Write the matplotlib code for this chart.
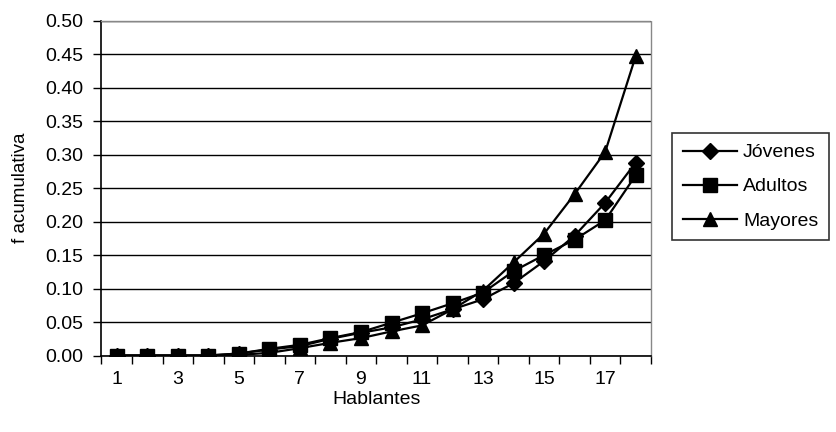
"""Cumulative frequency of speakers by age group."""

import numpy as np
import matplotlib
matplotlib.use('Agg')
import matplotlib.pyplot as plt

hablantes = list(range(1, 19))
jovenes = [0.0, 0.0, 0.0, 0.0, 0.003, 0.009, 0.014, 0.025, 0.034, 0.042,
           0.054, 0.069, 0.084, 0.108, 0.141, 0.179, 0.228, 0.288]
adultos = [0.0, 0.0, 0.0, 0.0, 0.003, 0.010, 0.016, 0.026, 0.035, 0.049,
           0.063, 0.078, 0.094, 0.126, 0.150, 0.173, 0.202, 0.269]
mayores = [0.0, 0.0, 0.0, 0.0, 0.001, 0.004, 0.011, 0.019, 0.026, 0.036,
           0.045, 0.069, 0.097, 0.139, 0.182, 0.241, 0.304, 0.447]
xtick_labels = ['1', '3', '5', '7', '9', '11', '13', '15', '17']

plt.rcParams['font.family'] = ['Liberation Sans', 'DejaVu Sans']
FS = 14

fig = plt.figure(figsize=(8.36, 4.32), dpi=100)
ax = fig.add_axes([0.1214, 0.177, 0.6573, 0.7755])

x = np.arange(len(hablantes))
series = [(jovenes, 'D', 8.5, 'Jóvenes'),
          (adultos, 's', 9.5, 'Adultos'),
          (mayores, '^', 10.5, 'Mayores')]
for values, marker, ms, label in series:
    ax.plot(x, values, color='black', lw=1.6, marker=marker, ms=ms,
            markerfacecolor='black', markeredgecolor='black', label=label)

ax.set_xlim(-0.5, len(hablantes) - 0.5)
ax.set_ylim(0, 0.5)
yticks = np.arange(0, 0.501, 0.05)
ax.set_yticks(yticks)
ax.set_yticklabels([f'{v:.2f}' for v in yticks])
ax.yaxis.grid(True, color='black', lw=1)
ax.set_axisbelow(True)

# category axis: labels on every other point, ticks on the boundaries
ax.set_xticks(x[::2])
ax.set_xticklabels(xtick_labels)
ax.set_xticks(np.arange(-0.5, len(hablantes), 1), minor=True)
ax.tick_params(axis='x', which='major', length=0, pad=11, labelsize=FS)
ax.tick_params(axis='x', which='minor', length=6, width=1, color='black')
ax.tick_params(axis='y', length=6, width=1, labelsize=FS, pad=7)

for side in ('top', 'right'):
    ax.spines[side].set_color('#888888')
    ax.spines[side].set_linestyle((0, (1, 1)))
    ax.spines[side].set_linewidth(1)
for side in ('left', 'bottom'):
    ax.spines[side].set_color('black')
    ax.spines[side].set_linewidth(1.2)

ax.set_xlabel('Hablantes', fontsize=FS, labelpad=2)
ax.set_ylabel('f acumulativa', fontsize=FS - 0.5, labelpad=12)

leg = fig.legend(loc='upper left', bbox_to_anchor=(0.8038, 0.6921),
                 fontsize=FS, frameon=True, fancybox=False,
                 edgecolor='black', handlelength=2.8, handletextpad=0.3,
                 borderpad=0.55, labelspacing=0.85, borderaxespad=0)
leg.get_frame().set_linewidth(1.2)

fig.savefig('out.png', dpi=100)
